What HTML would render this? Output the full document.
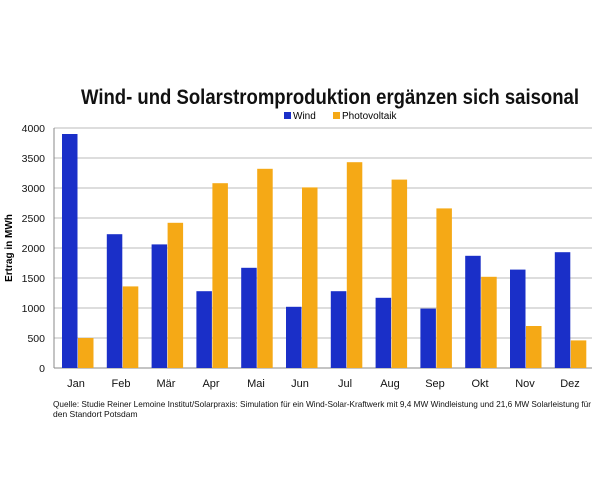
<!DOCTYPE html><html><head><style>body{margin:0;background:#fff}svg{display:block}</style></head><body>
<svg width="600" height="480" xmlns="http://www.w3.org/2000/svg" font-family="Liberation Sans, Arial, sans-serif">
<rect width="600" height="480" fill="#fff"/>
<text x="330" y="104" text-anchor="middle" font-size="21" font-weight="bold" fill="#111" textLength="498" lengthAdjust="spacingAndGlyphs">Wind- und Solarstromproduktion ergänzen sich saisonal</text>
<rect x="284" y="112" width="7" height="7" fill="#1a2fc8"/><text x="293" y="119" font-size="10">Wind</text>
<rect x="333" y="112" width="7" height="7" fill="#f5a916"/><text x="342" y="119" font-size="10">Photovoltaik</text>
<g stroke="#bbb" stroke-width="1">
<line x1="54" x2="592" y1="128" y2="128"/><line x1="54" x2="592" y1="158" y2="158"/><line x1="54" x2="592" y1="188" y2="188"/><line x1="54" x2="592" y1="218" y2="218"/><line x1="54" x2="592" y1="248" y2="248"/><line x1="54" x2="592" y1="278" y2="278"/><line x1="54" x2="592" y1="308" y2="308"/><line x1="54" x2="592" y1="338" y2="338"/>
</g>
<g font-size="10.5" text-anchor="end" fill="#111">
<text x="45" y="132">4000</text><text x="45" y="162">3500</text><text x="45" y="192">3000</text><text x="45" y="222">2500</text><text x="45" y="252">2000</text><text x="45" y="282">1500</text><text x="45" y="312">1000</text><text x="45" y="342">500</text><text x="45" y="372">0</text>
</g>
<text transform="translate(12,248) rotate(-90)" text-anchor="middle" font-size="10" font-weight="bold">Ertrag in MWh</text>
<g id="bars"></g>
<line x1="54" x2="54" y1="128" y2="368" stroke="#888"/>
<line x1="54" x2="592" y1="368" y2="368" stroke="#888"/>
<g fill="#1a2fc8">
<rect x="62" y="134" width="15.5" height="234"/><rect x="106.8" y="234.2" width="15.5" height="133.8"/><rect x="151.6" y="244.4" width="15.5" height="123.6"/><rect x="196.4" y="291.2" width="15.5" height="76.8"/><rect x="241.2" y="267.8" width="15.5" height="100.2"/><rect x="286" y="306.8" width="15.5" height="61.2"/><rect x="330.8" y="291.2" width="15.5" height="76.8"/><rect x="375.6" y="297.8" width="15.5" height="70.2"/><rect x="420.4" y="308.6" width="15.5" height="59.4"/><rect x="465.2" y="255.8" width="15.5" height="112.2"/><rect x="510" y="269.6" width="15.5" height="98.4"/><rect x="554.8" y="252.2" width="15.5" height="115.8"/>
</g>
<g fill="#f5a916">
<rect x="78" y="338" width="15.5" height="30"/><rect x="122.8" y="286.4" width="15.5" height="81.6"/><rect x="167.6" y="222.8" width="15.5" height="145.2"/><rect x="212.4" y="183.2" width="15.5" height="184.8"/><rect x="257.2" y="168.8" width="15.5" height="199.2"/><rect x="302" y="187.4" width="15.5" height="180.6"/><rect x="346.8" y="162.2" width="15.5" height="205.8"/><rect x="391.6" y="179.6" width="15.5" height="188.4"/><rect x="436.4" y="208.4" width="15.5" height="159.6"/><rect x="481.2" y="276.8" width="15.5" height="91.2"/><rect x="526" y="326" width="15.5" height="42"/><rect x="570.8" y="340.4" width="15.5" height="27.6"/>
</g>
<g font-size="11" text-anchor="middle" fill="#111">
<text x="76" y="387">Jan</text><text x="121" y="387">Feb</text><text x="166" y="387">Mär</text><text x="211" y="387">Apr</text><text x="256" y="387">Mai</text><text x="300" y="387">Jun</text><text x="345" y="387">Jul</text><text x="390" y="387">Aug</text><text x="435" y="387">Sep</text><text x="480" y="387">Okt</text><text x="525" y="387">Nov</text><text x="570" y="387">Dez</text>
</g>
<text x="53" y="407" font-size="8.5" fill="#111" textLength="538" lengthAdjust="spacingAndGlyphs">Quelle: Studie Reiner Lemoine Institut/Solarpraxis: Simulation für ein Wind-Solar-Kraftwerk mit 9,4 MW Windleistung und 21,6 MW Solarleistung für</text>
<text x="53" y="417" font-size="8.5" fill="#111">den Standort Potsdam</text>
</svg>
</body></html>
